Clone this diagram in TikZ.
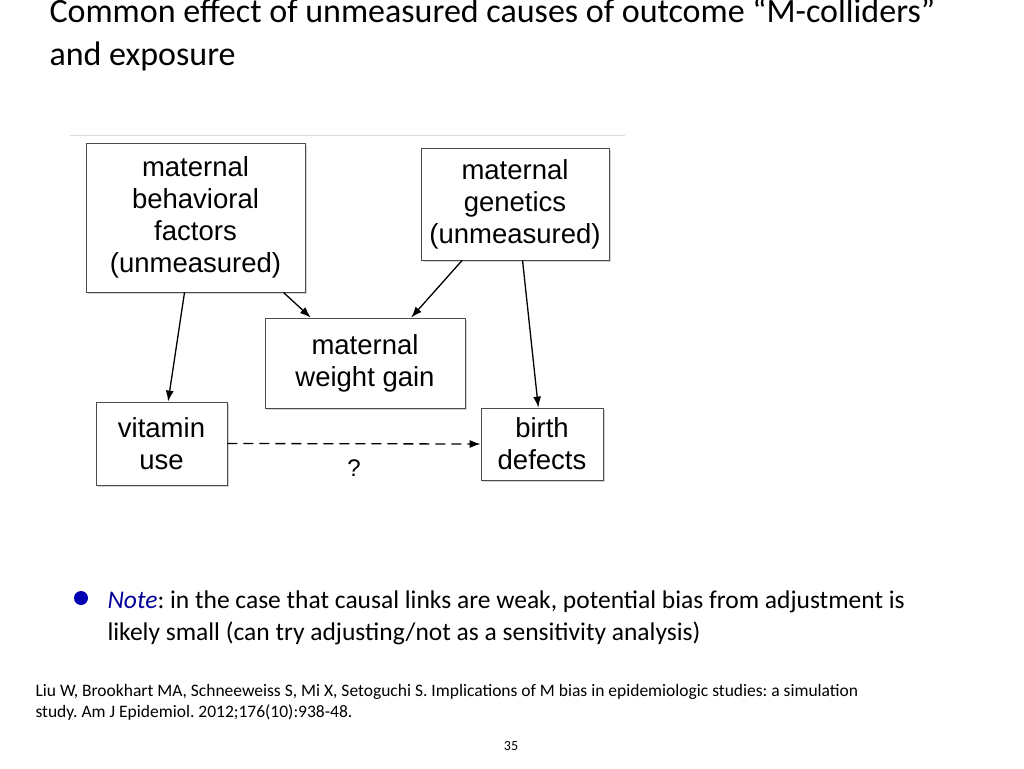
\documentclass[tikz,border=0pt]{standalone}
\usepackage{fontspec}
\setmainfont{Carlito}
\newfontfamily\boxfont{Liberation Sans}
\usetikzlibrary{calc,shadows,arrows.meta}
\frenchspacing
\tikzset{
  dagbox/.style={draw=black!70,line width=0.8pt,fill=white,align=center,
    font=\boxfont\fontsize{27.5}{32}\selectfont,inner sep=0pt,
    drop shadow={shadow xshift=2pt,shadow yshift=-2pt,opacity=0.35}},
  dagarrow/.style={-{Latex[length=11pt,width=8pt]},line width=1.3pt}
}
\begin{document}
\begin{tikzpicture}[x=1pt,y=-1pt]
\useasboundingbox (0,0) rectangle (1024,768);
% title
\node[anchor=west,font=\fontsize{34}{43}\selectfont,align=left] (title) at (46,34)
  {Common effect of unmeasured causes of outcome \textquotedblleft M-colliders\textquotedblright\\and exposure};
\draw[black!15,line width=1pt] (70,135) -- (625,135);
% boxes
\node[dagbox,minimum width=219,minimum height=149] (beh) at (195.5,217.5)
  {maternal\\behavioral\\factors\\(unmeasured)};
\node[dagbox,minimum width=188,minimum height=112] (gen) at (515,204)
  {maternal\\genetics\\(unmeasured)};
\node[dagbox,minimum width=200,minimum height=90] (wg) at (365,363)
  {maternal\\weight gain};
\node[dagbox,minimum width=131,minimum height=83] (vit) at (161.5,443.5)
  {vitamin\\use};
\node[dagbox,minimum width=122,minimum height=72] (bd) at (542,444)
  {birth\\defects};
% arrows
\draw[dagarrow] ($(beh.south west)!0.45!(beh.south east)$) -- ($(vit.north west)!0.55!(vit.north east)$);
\draw[dagarrow] ($(beh.south west)!0.9!(beh.south east)$) -- ($(wg.north west)!0.23!(wg.north east)$);
\draw[dagarrow] ($(gen.south west)!0.22!(gen.south east)$) -- ($(wg.north west)!0.73!(wg.north east)$);
\draw[dagarrow] ($(gen.south west)!0.54!(gen.south east)$) -- ($(bd.north west)!0.47!(bd.north east)$);
\draw[dagarrow,dash pattern=on 10pt off 6pt] (vit.east) -- node[below=12pt,font=\boxfont\fontsize{24}{26}\selectfont] (q) {?} (bd.west);
% note
\node[circle,fill=blue!70!black,inner sep=0pt,minimum size=14pt] (dot) at (81,598) {};
\node[anchor=north west,align=left,font=\fontsize{25.5}{32}\selectfont] (note) at (104,587)
  {{\color{blue!60!black}\textit{Note}}: in the case that causal links are weak, potential bias from adjustment is\\
   likely small (can try adjusting/not as a sensitivity analysis)};
\node[anchor=north west,align=left,font=\fontsize{17.5}{21}\selectfont] (cite) at (32,681)
  {Liu W, Brookhart MA, Schneeweiss S, Mi X, Setoguchi S. Implications of M bias in epidemiologic studies: a simulation\\
   study. Am J Epidemiol. 2012;176(10):938-48.};
\node[font=\fontsize{14}{16}\selectfont] (page) at (511,746) {35};
\end{tikzpicture}
\end{document}
